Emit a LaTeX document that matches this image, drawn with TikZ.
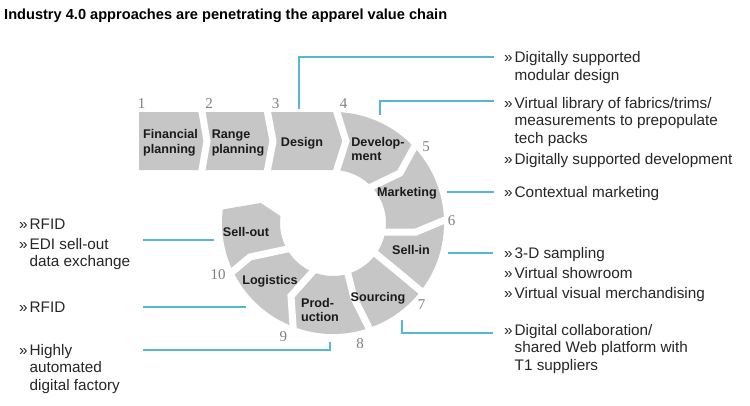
\documentclass[tikz,border=0pt]{standalone}
\usepackage{fontspec}
\setmainfont{Liberation Sans}
\newfontfamily\numfont{Liberation Serif}
\definecolor{segfill}{HTML}{C6C6C6}
\definecolor{connblue}{HTML}{55B6D5}
\definecolor{numgray}{HTML}{808080}
\definecolor{labelblack}{HTML}{1A1A1A}
\definecolor{notetext}{HTML}{262626}
\begin{document}
\begin{tikzpicture}[x=1pt,y=1pt,
  seglabel/.style={font=\fontsize{12.6}{14.5}\selectfont\bfseries, text=labelblack, align=left, inner sep=0pt},
  stepnum/.style={font=\numfont\fontsize{15}{15}\selectfont, text=numgray, inner sep=0pt},
  note/.style={font=\fontsize{15.3}{17.5}\selectfont, text=notetext, anchor=base west, inner sep=0pt},
  conn/.style={draw=connblue, line width=1.2pt},
  cut/.style={draw=white, line width=7pt, line join=miter},
]
\useasboundingbox (0,0) rectangle (750,-405);
\fill[white] (0,0) rectangle (750,-405);

% title
\node[anchor=base west, inner sep=0pt, font=\fontsize{14.6}{16}\selectfont\bfseries, text=black] (title) at (4,-19.5) {Industry 4.0 approaches are penetrating the apparel value chain};

% value chain band (row + ring)
\fill[segfill] (139,-112) -- (333,-112) arc[start angle=90, end angle=-187, radius=111pt]
  -- (260.7,-203) -- (280.45,-216.08) arc[start angle=-187.5, end angle=90, radius=53pt]
  -- (139,-170) -- cycle;

% gaps between the steps
\draw[cut] (201.3,-108) -- (207,-141) -- (201.3,-174);
\draw[cut] (266.7,-108) -- (273,-141) -- (266.7,-174);
\draw[cut] (335.5,-108) -- (346,-141) -- (335.5,-174);
\draw[cut] (417,-142) -- (400,-173) -- (365,-190);
\draw[cut] (452,-217) -- (416,-232) -- (372,-232);
\draw[cut] (370,-249) -- (398,-272) -- (428,-297);
\draw[cut] (347,-270) -- (354,-298) -- (374,-338);
\draw[cut] (316,-268) -- (291,-296) -- (294,-340);
\draw[cut] (226,-277) -- (250,-257) -- (292,-248);

% step labels
\node[seglabel] (fin) at (170.5,-143) {Financial\\planning};
\node[seglabel] (rng) at (238,-143) {Range\\planning};
\node[seglabel] (dsg) at (302,-143) {Design};
\node[seglabel] (dev) at (378,-149) {Develop-\\ment};
\node[seglabel] (mkt) at (407,-193) {Marketing};
\node[seglabel] (sin) at (411,-250) {Sell-in};
\node[seglabel] (src) at (378,-298) {Sourcing};
\node[seglabel] (prd) at (320,-310) {Prod-\\uction};
\node[seglabel] (lgs) at (270,-281) {Logistics};
\node[seglabel] (sout) at (246,-232) {Sell-out};

% step numbers
\node[stepnum] (n1) at (141.5,-104) {1};
\node[stepnum] (n2) at (209,-104) {2};
\node[stepnum] (n3) at (275.5,-104) {3};
\node[stepnum] (n4) at (343.5,-104) {4};
\node[stepnum] (n5) at (426,-146.5) {5};
\node[stepnum] (n6) at (451.7,-221) {6};
\node[stepnum] (n7) at (421.7,-305) {7};
\node[stepnum] (n8) at (360,-343.3) {8};
\node[stepnum] (n9) at (283.3,-337) {9};
\node[stepnum] (n10) at (218,-275) {10};

% notes right
\node[note] (tDsg) at (504,-62.5) {\begin{tabular}[t]{@{}p{10.5pt}@{}l@{}}»&Digitally supported\\&modular design\end{tabular}};
\node[note] (tDev) at (504,-108) {\begin{tabular}[t]{@{}p{10.5pt}@{}l@{}}»&Virtual library of fabrics/trims/\\&measurements to prepopulate\\&tech packs\\[3.5pt]»&Digitally supported development\end{tabular}};
\node[note] (tMkt) at (504,-197) {\begin{tabular}[t]{@{}p{10.5pt}@{}l@{}}»&Contextual marketing\end{tabular}};
\node[note] (tSin) at (504,-258) {\begin{tabular}[t]{@{}p{10.5pt}@{}l@{}}»&3-D sampling\\[2.5pt]»&Virtual showroom\\[2.5pt]»&Virtual visual merchandising\end{tabular}};
\node[note] (tSrc) at (504,-335) {\begin{tabular}[t]{@{}p{10.5pt}@{}l@{}}»&Digital collaboration/\\&shared Web platform with\\&T1 suppliers\end{tabular}};

% notes left
\node[note] (tSout) at (19,-229) {\begin{tabular}[t]{@{}p{10.5pt}@{}l@{}}»&RFID\\[2.5pt]»&EDI sell-out\\&data exchange\end{tabular}};
\node[note] (tLgs) at (19,-312) {\begin{tabular}[t]{@{}p{10.5pt}@{}l@{}}»&RFID\end{tabular}};
\node[note] (tPrd) at (19,-355) {\begin{tabular}[t]{@{}p{10.5pt}@{}l@{}}»&Highly\\&automated\\&digital factory\end{tabular}};

% connector end points
\coordinate (aDsg) at (299,-109);  \coordinate (bDsg) at (494,-57);
\coordinate (aDev) at (380,-115);  \coordinate (bDev) at (494,-101);
\coordinate (aMkt) at (447,-192);  \coordinate (bMkt) at (494,-192);
\coordinate (aSin) at (448,-253);  \coordinate (bSin) at (493,-253);
\coordinate (aSrc) at (402,-320);  \coordinate (bSrc) at (493,-333);
\coordinate (aSout) at (214,-240); \coordinate (bSout) at (143,-240);
\coordinate (aLgs) at (246,-307);  \coordinate (bLgs) at (143,-307);
\coordinate (aPrd) at (330,-342);  \coordinate (bPrd) at (143,-350);

\draw[conn] (aDsg) |- (bDsg);
\draw[conn] (aDev) |- (bDev);
\draw[conn] (aMkt) -- (bMkt);
\draw[conn] (aSin) -- (bSin);
\draw[conn] (aSrc) |- (bSrc);
\draw[conn] (aSout) -- (bSout);
\draw[conn] (aLgs) -- (bLgs);
\draw[conn] (aPrd) |- (bPrd);
\end{tikzpicture}
\end{document}
